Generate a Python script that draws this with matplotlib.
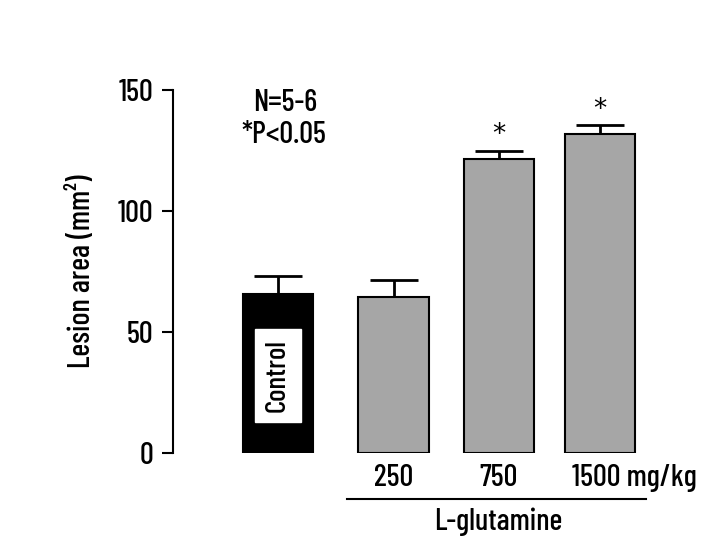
import matplotlib.pyplot as plt
from matplotlib import font_manager

names = {f.name for f in font_manager.fontManager.ttflist}
fam = 'Barlow Condensed' if 'Barlow Condensed' in names else 'DejaVu Sans'
plt.rcParams['font.family'] = [fam, 'DejaVu Sans']
plt.rcParams['font.weight'] = 'medium'
plt.rcParams['axes.labelweight'] = 'medium'

# data
groups = ["Control", "250", "750", "1500 mg/kg"]
xpos = [0, 1.65, 3.15, 4.6]
means = [65.5, 64.5, 121.5, 132]
errs = [7.5, 7, 3.5, 3.5]
colors = ["black", "#a6a6a6", "#a6a6a6", "#a6a6a6"]
signif = [False, False, True, True]

fig = plt.figure(figsize=(7.2, 5.39), dpi=100)
ax = fig.add_axes([0.24, 0.1596, 0.76, 0.6734])

ax.bar(xpos, means, width=1.0, color=colors, edgecolor="black", linewidth=1.5, zorder=2)
ax.errorbar(xpos, means, yerr=[[0] * 4, errs], fmt="none", ecolor="black",
            elinewidth=2, capsize=17, capthick=2, zorder=1)

for x, m, e, s in zip(xpos, means, errs, signif):
    if s:
        ax.text(x, m + e + 1.0, "*", ha="center", va="bottom", fontsize=19,
                family="DejaVu Sans")

ax.text(xpos[0], 32, "Control", rotation=90, ha="center", va="center", fontsize=21,
        bbox=dict(facecolor="white", edgecolor="white", boxstyle="square,pad=0.35"), zorder=3)

ax.text(xpos[1], -10.5, groups[1], ha="center", va="center", fontsize=22)
ax.text(xpos[2], -10.5, groups[2], ha="center", va="center", fontsize=22)
ax.text(xpos[3] - 0.4, -10.5, groups[3], ha="left", va="center", fontsize=22)

ax.plot([0.99, 5.26], [-19, -19], color="black", lw=1.5, clip_on=False)
ax.text(3.15, -28.5, "L-glutamine", ha="center", va="center", fontsize=22)

ax.text(0.11, 144.5, "N=5-6", ha="center", va="center", fontsize=22)
ax.text(0.09, 131.5, "*P<0.05", ha="center", va="center", fontsize=22)

ax.set_xlim(-1.5, 6.31)
ax.set_ylim(0, 150)
ax.set_yticks([0, 50, 100, 150])
ax.tick_params(axis="y", labelsize=22, length=8, width=1.5, pad=6)
ax.set_xticks([])
for sp in ["top", "right", "bottom"]:
    ax.spines[sp].set_visible(False)
ax.spines["left"].set_linewidth(1.5)
ax.set_ylabel("Lesion area (mm²)", fontsize=22, labelpad=16)

fig.savefig("out.png", dpi=100)
